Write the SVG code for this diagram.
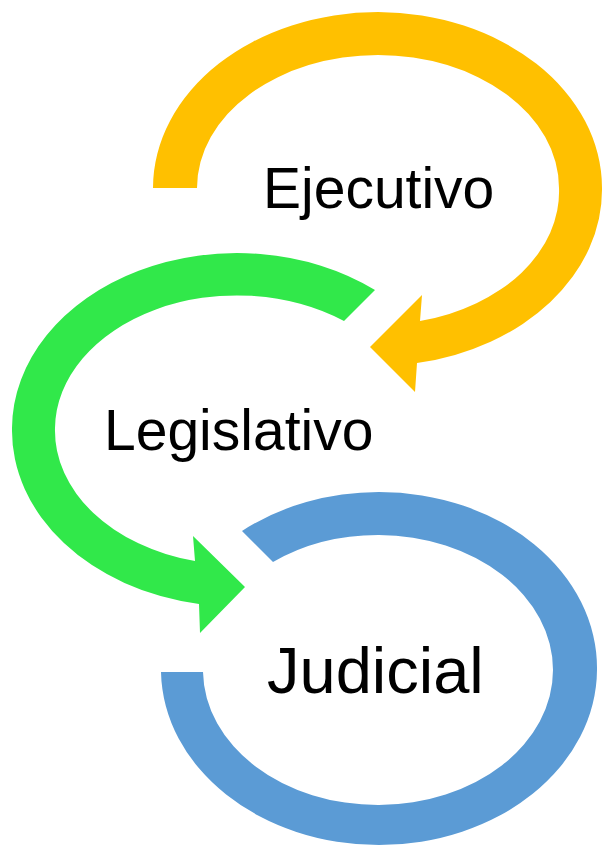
<svg xmlns="http://www.w3.org/2000/svg" width="603" height="846" viewBox="0 0 603 846">
<style>
.lbl{font-family:"Liberation Sans",Arial,sans-serif;fill:#000}
.y{fill:#FFC000}
.g{fill:#31E84A}
.b{fill:#5B9BD5}
</style>
<rect width="603" height="846" fill="#fff"/>
<g id="connectors">
<path class="y" d="M 153 188 A 225 176 0 0 1 378 12 A 225 176 0 0 1 602 188 A 225 176 0 0 1 417 363 L 415 392 L 370 347 L 422 295 L 420 321 A 181 133 0 0 0 559 188 A 181 133 0 0 0 378 55 A 181 133 0 0 0 197 188 Z"/>
<path class="g" d="M 375 290 A 225 176 0 0 0 12 428 A 225 176 0 0 0 199 604 L 200 633 L 245 587 L 193 536 L 195 561 A 182 134 0 0 1 55 428 A 182 134 0 0 1 344 321 Z"/>
<path class="b" d="M 242 531 A 218 176 0 0 1 379 492 A 218 176 0 0 1 597 670 A 218 176 0 0 1 379 845 A 218 176 0 0 1 161 672 L 203 672 A 175 135 0 0 0 379 805 A 175 135 0 0 0 553 670 A 175 135 0 0 0 379 535 A 175 135 0 0 0 273 562 Z"/>
</g>
<g id="ejecutivo">
<text class="lbl" x="263" y="208" font-size="57">Ejecutivo</text>
</g>
<g id="legislativo">
<text class="lbl" x="104" y="450" font-size="57">Legislativo</text>
</g>
<g id="judicial">
<text class="lbl" x="267" y="693" font-size="65">Judicial</text>
</g>
</svg>
